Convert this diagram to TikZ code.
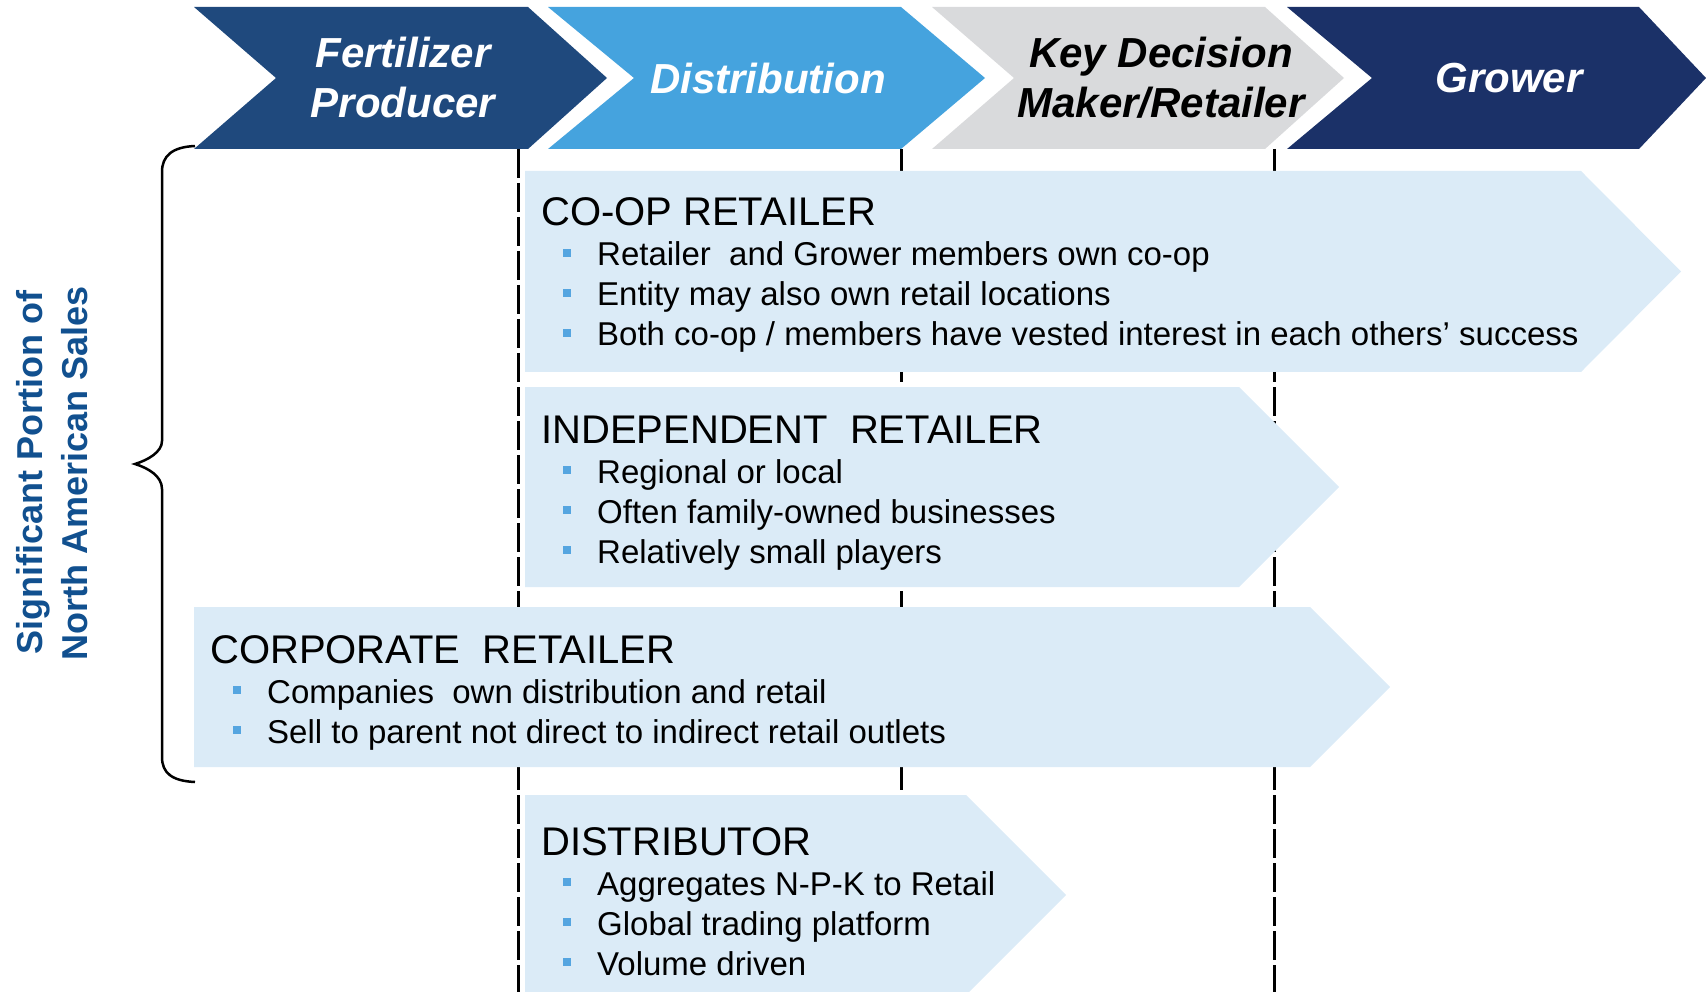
\documentclass[tikz,border=0pt]{standalone}
\usepackage{fontspec}
\setmainfont{Liberation Sans}

\definecolor{prodblue}{HTML}{1F497D}
\definecolor{distblue}{HTML}{45A3DE}
\definecolor{keygray}{HTML}{D9DADC}
\definecolor{growblue}{HTML}{1B3168}
\definecolor{panelblue}{HTML}{DBEBF7}
\definecolor{dotblue}{HTML}{55A5E0}
\definecolor{salesblue}{HTML}{11508F}

\begin{document}
\begin{tikzpicture}[x=1pt, y=-1pt,
    head/.style = {font=\fontsize{42}{50}\selectfont\bfseries\itshape, align=center, inner sep=0pt},
    guide/.style = {line width=3pt, dash pattern=on 29pt off 5pt},
    panel/.style = {fill=panelblue},
    title/.style = {anchor=base west, inner sep=0pt, font=\fontsize{40}{48}\selectfont},
    item/.style = {anchor=base west, inner sep=0pt, font=\fontsize{33}{40}\selectfont},
    dot/.style = {fill=dotblue},
    brace/.style = {line width=2.5pt},
    side/.style = {font=\fontsize{36}{45}\selectfont\bfseries, text=salesblue, align=center, inner sep=0pt}]

    \useasboundingbox (0,0) rectangle (1706,992);

    % header chevrons
    \foreach \l/\n/\r/\p/\c in {194/276/528/607/prodblue, 548/634/901/985/distblue,
                                 932/1014/1265/1344/keygray, 1287/1372/1639/1706/growblue} {
        \fill[\c] (\l,7) -- (\r,7) -- (\p,78) -- (\r,149) -- (\l,149) -- (\n,78) -- cycle;
    }
    \node[head, white] (prod) at (403,78) {Fertilizer\\Producer};
    \node[head, white] (dist) at (768,78) {Distribution};
    \node[head] (key) at (1161,78) {Key Decision\\Maker/Retailer};
    \node[head, white] (grow) at (1509,78) {Grower};

    % stage guides
    \foreach \x in {518,901,1274}
        \draw[guide] (\x,149) -- (\x,992);

    % co-op
    \fill[panel] (525,171) -- (1581,171) -- (1681,271.5) -- (1581,372) -- (525,372) -- cycle;
    \node[title] (coop) at (541,226) {CO-OP RETAILER};
    \foreach \t [count = \i] in {Retailer\ \ and Grower members own co-op,
                                 Entity may also own retail locations,
                                 Both co-op / members have vested interest in each others’ success} {
        \node[item] (coop\i) at (597,226+40*\i) {\t};
        \fill[dot] (coop\i.base west) ++(-34,-17) rectangle ++(8,8);
    }

    % independent
    \fill[panel] (525,387) -- (1239,387) -- (1339,487) -- (1239,587) -- (525,587) -- cycle;
    \node[title] (indep) at (541,443) {INDEPENDENT\ \ RETAILER};
    \foreach \t [count = \i] in {Regional or local,
                                 Often family-owned businesses,
                                 Relatively small players} {
        \node[item] (indep\i) at (597,443+40*\i) {\t};
        \fill[dot] (indep\i.base west) ++(-34,-17) rectangle ++(8,8);
    }

    % corporate
    \fill[panel] (194,607) -- (1310,607) -- (1390,687) -- (1310,767) -- (194,767) -- cycle;
    \node[title] (corp) at (210,663) {CORPORATE\ \ RETAILER};
    \foreach \t [count = \i] in {Companies\ \ own distribution and retail,
                                 Sell to parent not direct to indirect retail outlets} {
        \node[item] (corp\i) at (267,663+40*\i) {\t};
        \fill[dot] (corp\i.base west) ++(-34,-17) rectangle ++(8,8);
    }

    % distributor
    \fill[panel] (525,795) -- (966,795) -- (1066,895) -- (966,995) -- (525,995) -- cycle;
    \node[title] (distr) at (541,855) {DISTRIBUTOR};
    \foreach \t [count = \i] in {Aggregates N-P-K to Retail,
                                 Global trading platform,
                                 Volume driven} {
        \node[item] (distr\i) at (597,855+40*\i) {\t};
        \fill[dot] (distr\i.base west) ++(-34,-17) rectangle ++(8,8);
    }

    % brace and side label
    \draw[brace] (195,146) .. controls (172,147) and (162,156) .. (162,172) -- (162,441)
        .. controls (162,452) and (148,460) .. (135,464)
        .. controls (148,468) and (162,476) .. (162,489) -- (162,757)
        .. controls (162,773) and (172,781) .. (195,782);
    \node[side, rotate=90] (sales) at (52,473) {Significant Portion of\\North American Sales};
\end{tikzpicture}
\end{document}
